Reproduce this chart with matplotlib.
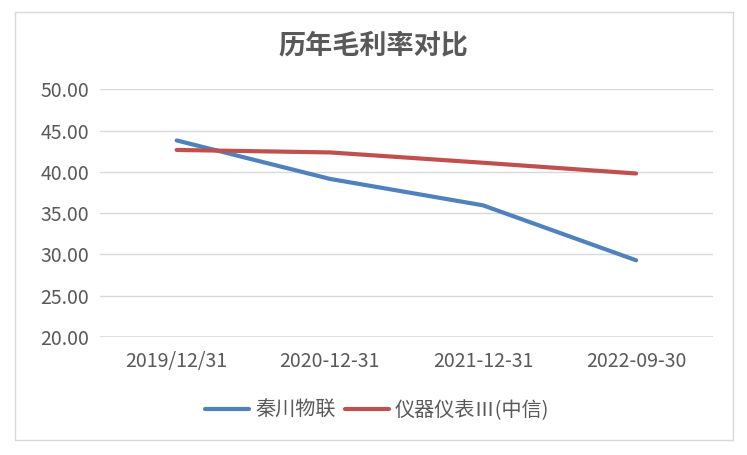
import matplotlib
matplotlib.use("Agg")
import matplotlib.pyplot as plt
from matplotlib.patches import Rectangle

plt.rcParams['font.family'] = ['Noto Sans CJK SC', 'DejaVu Sans']

# 数据
dates = ['2019/12/31', '2020-12-31', '2021-12-31', '2022-09-30']
qinchuan = [43.8, 39.15, 35.95, 29.3]
yiqi = [42.65, 42.35, 41.1, 39.8]
yticks = [20, 25, 30, 35, 40, 45, 50]

fig = plt.figure(figsize=(7.47, 4.55), dpi=100)
ax = fig.add_axes([0.134, 0.259, 0.82, 0.545])

x = range(len(dates))
ax.plot(x, qinchuan, color='#4F81BD', lw=3, label='秦川物联', solid_capstyle='round')
ax.plot(x, yiqi, color='#C0504D', lw=3, label='仪器仪表Ⅲ(中信)', solid_capstyle='round')

ax.set_xlim(-0.5, len(dates) - 0.5)
ax.set_ylim(20, 50)
ax.set_yticks(yticks)
ax.set_yticklabels([f'{v:.2f}' for v in yticks])
ax.set_xticks(list(x))
ax.set_xticklabels(dates)
ax.grid(axis='y', color='#D9D9D9', lw=1)
ax.axhline(20, color='#D9D9D9', lw=1.2, zorder=0.5)
ax.set_axisbelow(True)
for s in ax.spines.values():
    s.set_visible(False)
ax.tick_params(length=0, labelsize=14, labelcolor='#595959')
ax.tick_params(axis='x', pad=10)
ax.tick_params(axis='y', pad=8)

fig.text(0.5, 0.9, '历年毛利率对比', ha='center', va='center',
         fontsize=19.5, fontweight='bold', color='#595959')

fig.legend(loc='center', bbox_to_anchor=(0.505, 0.098), ncol=2, frameon=False,
           fontsize=14.5, labelcolor='#595959', handlelength=2.2,
           columnspacing=0.45, handletextpad=0.3)

# 外框
fig.patches.append(Rectangle((15 / 747, 1 - 440 / 455), 718 / 747, 428 / 455,
                             transform=fig.transFigure, fill=False,
                             edgecolor='#D9D9D9', lw=1))

fig.savefig('out.png', dpi=100)
